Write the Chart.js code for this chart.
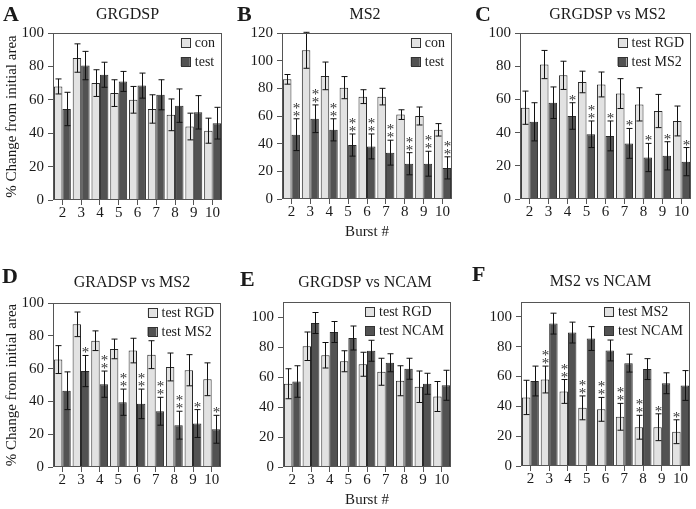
<!DOCTYPE html>
<html>
<head>
<meta charset="utf-8">
<script src="https://cdn.jsdelivr.net/npm/chart.js@4.4.1/dist/chart.umd.min.js"></script>
<style>
  html, body { margin: 0; padding: 0; background: #fff; }
  #fig { position: relative; width: 696px; height: 509px; overflow: hidden; }
  #fig canvas { position: absolute; }
</style>
</head>
<body>
<div id="fig">
  <canvas id="panelA"></canvas>
  <canvas id="panelB"></canvas>
  <canvas id="panelC"></canvas>
  <canvas id="panelD"></canvas>
  <canvas id="panelE"></canvas>
  <canvas id="panelF"></canvas>
</div>
<script>
// Bursts (x categories)
const bursts = ['2', '3', '4', '5', '6', '7', '8', '9', '10'];

// A - GRGDSP
const aCon = [68, 85, 70, 64, 60, 54.5, 51, 44, 41.5];
const aConErr = [4.5, 8.5, 8, 8, 8, 8.5, 9.5, 8, 7.5];
const aTest = [54.5, 80.5, 75, 71, 68.5, 63, 56.5, 52.5, 46];
const aTestErr = [10, 8.5, 7.5, 6, 7.5, 9, 10, 10, 9.5];

// B - MS2
const bCon = [86.5, 107.5, 89, 80.5, 74, 74, 61, 60, 50];
const bConErr = [3.5, 13, 10, 8, 5, 6, 3.5, 6.5, 4.5];
const bTest = [46.5, 58, 50, 39, 38, 33.5, 25.5, 25.5, 22.5];
const bTestErr = [11.5, 10, 8, 8, 9, 9, 8, 9, 8];
const bStars = ['**', '**', '**', '**', '**', '**', '**', '**', '**'];

// C - GRGDSP vs MS2
const cRgd = [55, 81, 74.5, 70.5, 69, 63.5, 57, 53, 47];
const cRgdErr = [10, 8.5, 8.5, 6.5, 7.5, 9, 10, 10, 9];
const cMs2 = [46.5, 58, 50, 39, 38, 33.5, 25, 26, 22.5];
const cMs2Err = [11.5, 9.5, 8, 8, 9, 9, 8.5, 8.5, 8.5];
const cStars = ['', '', '*', '**', '*', '*', '*', '*', '*'];

// D - GRADSP vs MS2
const dRgd = [65.5, 87, 77, 72, 71, 68.5, 61, 59, 53.5];
const dRgdErr = [8.5, 7.5, 6, 6, 7.5, 8.5, 8.5, 9.5, 10];
const dMs2 = [46.5, 58.5, 50.5, 39.5, 38.5, 34, 25.5, 26.5, 23];
const dMs2Err = [11.5, 9.5, 8, 8, 9, 8.5, 8.5, 8.5, 8.5];
const dStars = ['', '*', '**', '**', '**', '**', '**', '*', '*'];

// E - GRGDSP vs NCAM
const eRgd = [55.5, 80.5, 74.5, 70.5, 68.5, 63.5, 57.5, 53.5, 47];
const eRgdErr = [10, 9.5, 8.5, 7, 8, 9, 10, 10.5, 10];
const eNcam = [57, 96, 90, 86, 77.5, 69.5, 65.5, 55.5, 54.5];
const eNcamErr = [10.5, 7, 7, 8, 7, 6, 7, 7, 10];

// F - MS2 vs NCAM
const fMs2 = [46, 58, 50, 39, 38, 33, 26, 26, 23];
const fMs2Err = [11.5, 9, 8, 8, 8, 9, 8, 9, 8];
const fNcam = [57, 95.5, 89.5, 85.5, 77.5, 69, 65, 55.5, 54];
const fNcamErr = [10, 7, 7, 8, 7, 6, 7, 7, 10];
const fStars = ['', '**', '**', '**', '**', '**', '**', '*', '*'];

const SERIF = '"Liberation Serif", "DejaVu Serif", serif';
const LIGHT = '#e2e2e2';
const DARK = '#525252';
const INK = '#1a1a1a';

// error bars, asterisks, frame, legend, letter and title
const figurePlugin = {
  id: 'figure',
  afterDatasetsDraw(chart, args, opts) {
    const ctx = chart.ctx;
    const area = chart.chartArea;
    const yScale = chart.scales.y;
    ctx.save();

    chart.data.datasets.forEach((ds, i) => {
      const meta = chart.getDatasetMeta(i);
      meta.data.forEach((bar, j) => {
        const v = ds.data[j];
        const e = ds.errors[j];
        const x = Math.round(bar.x) + 0.5;
        const yTop = yScale.getPixelForValue(v + e);
        const yBot = yScale.getPixelForValue(v - e);
        ctx.strokeStyle = '#111';
        ctx.lineWidth = 1;
        ctx.beginPath();
        ctx.moveTo(x, yTop);
        ctx.lineTo(x, yBot);
        ctx.moveTo(x - 3, yTop);
        ctx.lineTo(x + 3, yTop);
        ctx.moveTo(x - 3, yBot);
        ctx.lineTo(x + 3, yBot);
        ctx.stroke();

        // asterisks stacked above the error bar
        if (ds.stars && ds.stars[j]) {
          ctx.fillStyle = '#333';
          ctx.font = '15px ' + SERIF;
          ctx.textAlign = 'center';
          ctx.textBaseline = 'alphabetic';
          for (let k = 0; k < ds.stars[j].length; k++) {
            ctx.fillText('*', x, yTop + 2 - k * 8);
          }
        }
      });
    });

    // frame round the plot
    ctx.strokeStyle = '#555';
    ctx.lineWidth = 1;
    ctx.strokeRect(Math.round(area.left) + 0.5, Math.round(area.top) + 0.5,
      Math.round(area.right - area.left) - 1, Math.round(area.bottom - area.top) - 1);

    // legend in the top right corner
    ctx.font = '14px ' + SERIF;
    ctx.textBaseline = 'middle';
    ctx.textAlign = 'left';
    const widths = chart.data.datasets.map(ds => ctx.measureText(ds.label).width);
    const boxX = area.right - 7 - Math.max(...widths) - 5 - 9;
    chart.data.datasets.forEach((ds, i) => {
      const cy = area.top + 10 + i * 19;
      ctx.fillStyle = ds.backgroundColor;
      ctx.fillRect(boxX, cy - 5, 9, 9);
      ctx.strokeStyle = '#333';
      ctx.strokeRect(Math.round(boxX) + 0.5, Math.round(cy - 5) + 0.5, 9, 9);
      ctx.fillStyle = INK;
      ctx.fillText(ds.label, boxX + 14, cy);
    });

    // panel letter and title
    ctx.fillStyle = INK;
    ctx.font = 'bold 22px ' + SERIF;
    ctx.textAlign = 'left';
    ctx.fillText(opts.letter, opts.letterX, opts.letterY);
    ctx.font = '16px ' + SERIF;
    ctx.textAlign = 'center';
    ctx.fillText(opts.title, (area.left + area.right) / 2 + opts.titleDx, opts.titleY);
    ctx.restore();
  }
};

function makePanel(p) {
  const canvas = document.getElementById(p.id);
  canvas.width = p.w;
  canvas.height = p.h;
  canvas.style.left = p.x + 'px';
  canvas.style.top = p.y + 'px';
  canvas.style.width = p.w + 'px';
  canvas.style.height = p.h + 'px';

  const datasets = p.series.map(s => ({
    label: s.label,
    data: s.values,
    errors: s.errors,
    stars: s.stars,
    backgroundColor: s.color,
    borderColor: '#2a2a2a',
    borderWidth: 1,
    barPercentage: 1,
    categoryPercentage: 0.9
  }));

  new Chart(canvas, {
    type: 'bar',
    data: { labels: bursts, datasets },
    options: {
      responsive: false,
      animation: false,
      devicePixelRatio: 1,
      layout: { padding: p.pad },
      plugins: {
        legend: { display: false },
        tooltip: { enabled: false },
        figure: { letter: p.letter, letterX: p.letterX, letterY: p.letterY, title: p.title, titleDx: p.titleDx, titleY: p.titleY }
      },
      scales: {
        x: {
          grid: { display: true, drawOnChartArea: false, drawTicks: true, tickLength: 5, offset: false, color: '#555' },
          border: { display: false },
          ticks: { color: INK, font: { family: SERIF, size: 15, lineHeight: 1 }, padding: 1, maxRotation: 0, autoSkip: false },
          title: { display: !!p.xTitle, text: p.xTitle, color: INK, font: { family: SERIF, size: 15 }, padding: { top: 0, bottom: p.xTitlePad } },
          afterFit: s => { s.height = p.xH; }
        },
        y: {
          min: 0,
          max: p.yMax,
          grid: { display: true, drawOnChartArea: false, drawTicks: true, tickLength: 5, color: '#555' },
          border: { display: false },
          ticks: { stepSize: 20, includeBounds: false, color: INK, font: { family: SERIF, size: 15 }, padding: 4 },
          title: { display: !!p.yTitle, text: p.yTitle, color: INK, font: { family: SERIF, size: 15 }, padding: { top: 3, bottom: 0 } },
          afterBuildTicks: s => { s.ticks = s.ticks.filter(t => t.value % 20 === 0); },
          afterFit: s => { s.width = p.yW; }
        }
      }
    },
    plugins: [figurePlugin]
  });
}

const yLabel = '% Change from initial area';

makePanel({
  id: 'panelA', x: 0, y: 0, w: 232, h: 250,
  pad: { left: 0, top: 33, right: 10, bottom: 0 }, yW: 53, xH: 50, yMax: 100,
  yTitle: yLabel, letter: 'A', letterX: 3, letterY: 15, title: 'GRGDSP', titleDx: -10, titleY: 15,
  series: [
    { label: 'con', values: aCon, errors: aConErr, color: LIGHT },
    { label: 'test', values: aTest, errors: aTestErr, color: DARK }
  ]
});

makePanel({
  id: 'panelB', x: 232, y: 0, w: 230, h: 250,
  pad: { left: 0, top: 33, right: 10, bottom: 0 }, yW: 50, xH: 51, yMax: 120,
  xTitle: 'Burst #', xTitlePad: 9, letter: 'B', letterX: 5, letterY: 15, title: 'MS2', titleDx: -2, titleY: 15,
  series: [
    { label: 'con', values: bCon, errors: bConErr, color: LIGHT },
    { label: 'test', values: bTest, errors: bTestErr, stars: bStars, color: DARK }
  ]
});

makePanel({
  id: 'panelC', x: 462, y: 0, w: 234, h: 250,
  pad: { left: 0, top: 33, right: 5, bottom: 0 }, yW: 58, xH: 51, yMax: 100,
  letter: 'C', letterX: 13, letterY: 15, title: 'GRGDSP vs MS2', titleDx: 2, titleY: 15,
  series: [
    { label: 'test RGD', values: cRgd, errors: cRgdErr, color: LIGHT },
    { label: 'test MS2', values: cMs2, errors: cMs2Err, stars: cStars, color: DARK }
  ]
});

makePanel({
  id: 'panelD', x: 0, y: 250, w: 232, h: 259,
  pad: { left: 0, top: 53, right: 11, bottom: 0 }, yW: 53, xH: 42, yMax: 100,
  yTitle: yLabel, letter: 'D', letterX: 2, letterY: 27, title: 'GRADSP vs MS2', titleDx: -5, titleY: 33,
  series: [
    { label: 'test RGD', values: dRgd, errors: dRgdErr, color: LIGHT },
    { label: 'test MS2', values: dMs2, errors: dMs2Err, stars: dStars, color: DARK }
  ]
});

makePanel({
  id: 'panelE', x: 232, y: 250, w: 230, h: 259,
  pad: { left: 0, top: 52, right: 11, bottom: 0 }, yW: 51, xH: 42, yMax: 110,
  xTitle: 'Burst #', xTitlePad: 0, letter: 'E', letterX: 8, letterY: 30, title: 'GRGDSP vs NCAM', titleDx: -2, titleY: 33,
  series: [
    { label: 'test RGD', values: eRgd, errors: eRgdErr, color: LIGHT },
    { label: 'test NCAM', values: eNcam, errors: eNcamErr, color: DARK }
  ]
});

makePanel({
  id: 'panelF', x: 462, y: 250, w: 234, h: 259,
  pad: { left: 0, top: 52, right: 6, bottom: 0 }, yW: 59, xH: 43, yMax: 110,
  letter: 'F', letterX: 10, letterY: 25, title: 'MS2 vs NCAM', titleDx: -5, titleY: 32,
  series: [
    { label: 'test MS2', values: fMs2, errors: fMs2Err, stars: fStars, color: LIGHT },
    { label: 'test NCAM', values: fNcam, errors: fNcamErr, color: DARK }
  ]
});
</script>
</body>
</html>
